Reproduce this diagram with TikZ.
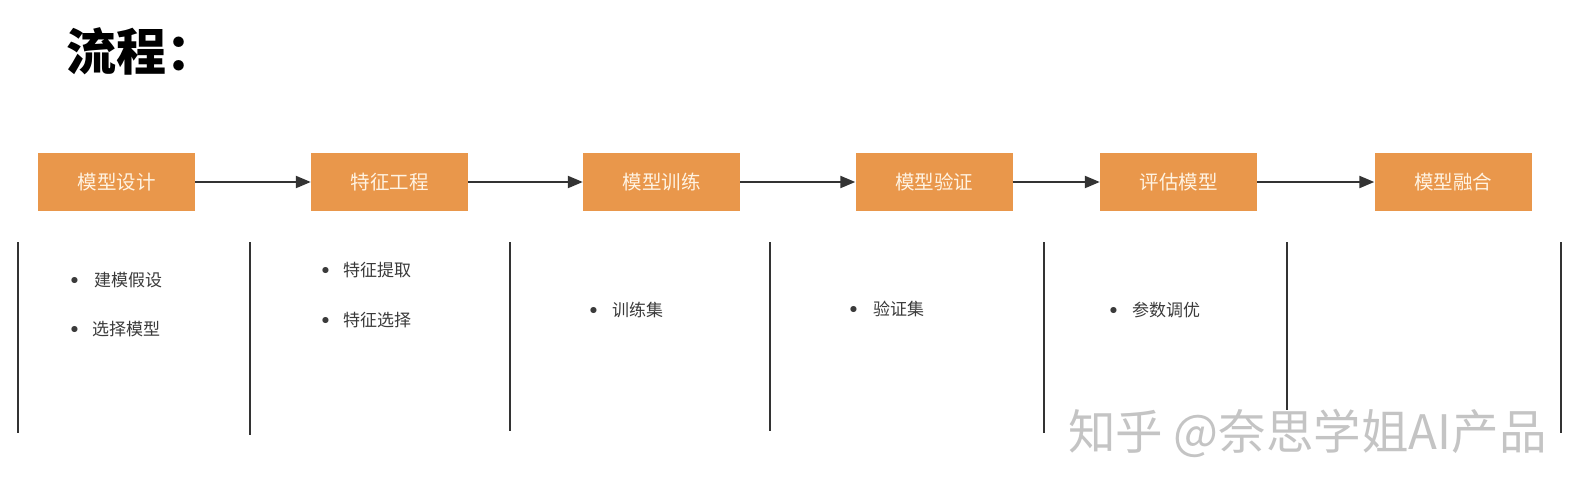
\documentclass[tikz,border=0pt]{standalone}
\usepackage{fontspec}
\setmainfont{Noto Sans CJK SC}
\usetikzlibrary{arrows.meta}
\definecolor{stage-orange}{HTML}{E9974B}
\definecolor{stage-text}{HTML}{FFF3E2}
\definecolor{line-dark}{HTML}{333333}
\definecolor{item-text}{HTML}{3A3A3A}
\definecolor{mark-gray}{HTML}{C4C4C4}
\newcommand{\itemdot}{\smash{\raisebox{-5pt}{\scalebox{1.7}{•}}}}

\begin{document}
\begin{tikzpicture}[x=1pt, y=-1pt,
        stage/.style={fill=stage-orange, text=stage-text, minimum width=157pt,
            minimum height=58pt, inner sep=0pt, font=\fontsize{19.5}{22}\selectfont},
        item/.style={anchor=west, text=item-text, inner sep=0pt,
            font=\fontsize{17}{20}\selectfont},
        flow/.style={-{Triangle[length=15pt, width=12pt]}, line-dark, line width=2.2pt},
        divider/.style={line-dark, line width=2pt}]
      \useasboundingbox (0,0) rectangle (1582,496);
      \node[anchor=west, inner sep=0pt, font=\fontsize{50}{56}\selectfont\bfseries] (title) at (66,51) {流程：};
      % stages
      \node[stage] (design) at (116.5,182) {模型设计};
      \node[stage] (feature) at (389.5,182) {特征工程};
      \node[stage] (train) at (661.5,182) {模型训练};
      \node[stage] (valid) at (934,182) {模型验证};
      \node[stage] (evaluate) at (1178.5,182) {评估模型};
      \node[stage] (fusion) at (1453,182) {模型融合};
      \draw[flow] (design.east) -- (feature.west);
      \draw[flow] (feature.east) -- (train.west);
      \draw[flow] (train.east) -- (valid.west);
      \draw[flow] (valid.east) -- (evaluate.west);
      \draw[flow] (evaluate.east) -- (fusion.west);
      % column dividers
      \foreach \x/\bot in {18/433, 250/435, 510/431, 770/431, 1044/433, 1287/410, 1561/433}
        \draw[divider] (\x,242) -- (\x,\bot);
      % bullet items
      \node[item] (d1) at (60,280) {\makebox[34pt][l]{\itemdot}建模假设};
      \node[item] (d2) at (60,329) {\makebox[32pt][l]{\itemdot}选择模型};
      \node[item] (f1) at (311,270) {\makebox[32pt][l]{\itemdot}特征提取};
      \node[item] (f2) at (311,320) {\makebox[32pt][l]{\itemdot}特征选择};
      \node[item] (t1) at (579,310) {\makebox[33pt][l]{\itemdot}训练集};
      \node[item] (v1) at (839,309) {\makebox[34pt][l]{\itemdot}验证集};
      \node[item] (e1) at (1099,310) {\makebox[33pt][l]{\itemdot}参数调优};
      % watermark
      \node[anchor=west, inner sep=0pt, text=mark-gray, font=\fontsize{47.5}{52}\selectfont] (mark) at (1068,433) {知乎 @奈思学姐AI产品};
    \end{tikzpicture}
\end{document}
